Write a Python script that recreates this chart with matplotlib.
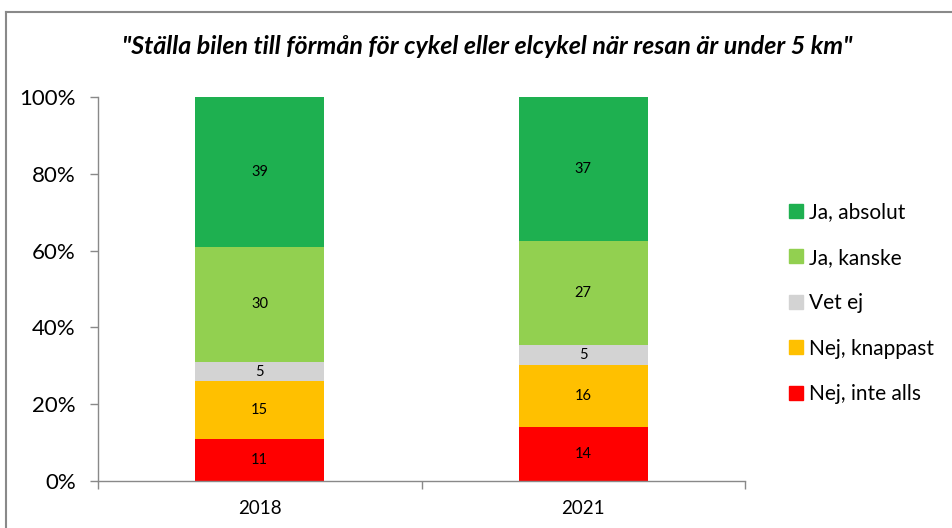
import matplotlib
matplotlib.use("Agg")
import matplotlib.pyplot as plt
from matplotlib.lines import Line2D
from matplotlib.ticker import PercentFormatter
import numpy as np

years = ["2018", "2021"]
categories = ["Nej, inte alls", "Nej, knappast", "Vet ej", "Ja, kanske", "Ja, absolut"]
values = {
    "Nej, inte alls": [11, 14],
    "Nej, knappast": [15, 16],
    "Vet ej": [5, 5],
    "Ja, kanske": [30, 27],
    "Ja, absolut": [39, 37],
}
colors = {
    "Nej, inte alls": "#FF0000",
    "Nej, knappast": "#FFC000",
    "Vet ej": "#D3D3D3",
    "Ja, kanske": "#92D050",
    "Ja, absolut": "#1EB050",
}
title = '"Ställa bilen till förmån för cykel eller elcykel när resan är under 5 km"'

plt.rcParams['font.family'] = ['Lato', 'DejaVu Sans']

W, H = 952, 528
fig = plt.figure(figsize=(W / 100, H / 100), dpi=100)
ax = fig.add_axes([98 / W, 1 - 481 / H, (745 - 98) / W, (481 - 97) / H])

totals = np.sum([values[c] for c in categories], axis=0)
x = np.arange(len(years))
bottom = np.zeros(len(years))
for c in categories:
    v = np.array(values[c], dtype=float)
    frac = v / totals * 100
    ax.bar(x, frac, width=0.4, bottom=bottom, color=colors[c], label=c)
    for xi, b, f, raw in zip(x, bottom, frac, values[c]):
        ax.text(xi, b + f / 2, str(raw), ha="center", va="center", fontsize=10.5, color="black")
    bottom += frac

ax.set_xlim(-0.5, 1.5)
ax.set_ylim(0, 100)
ax.set_yticks(np.arange(0, 101, 20))
ax.yaxis.set_major_formatter(PercentFormatter(decimals=0))
ax.set_xticks(x)
ax.set_xticklabels(years, fontsize=13.5)
ax.set_xticks([-0.5, 0.5, 1.5], minor=True)
ax.tick_params(axis="x", which="major", length=0, pad=14)
ax.tick_params(axis="x", which="minor", length=6, color="#898989", width=1)
ax.tick_params(axis="y", labelsize=16, length=6, color="#898989", width=1, pad=10)
for s in ["top", "right"]:
    ax.spines[s].set_visible(False)
for s in ["left", "bottom"]:
    ax.spines[s].set_color("#898989")
    ax.spines[s].set_linewidth(1)

fig.text(487 / W, 1 - 47 / H, title, ha="center", va="center", fontsize=18,
         fontweight="bold", fontstyle="italic")

order = ["Ja, absolut", "Ja, kanske", "Vet ej", "Nej, knappast", "Nej, inte alls"]
leg_handles = [Line2D([0], [0], marker="s", linestyle="none", markersize=10,
                      markerfacecolor=colors[c], markeredgecolor=colors[c]) for c in order]
fig.legend(leg_handles, order, loc="upper left", bbox_to_anchor=(777 / W, 1 - 194 / H),
           frameon=False, fontsize=15, labelspacing=1.22, handletextpad=0.15,
           handlelength=1.0, borderaxespad=0)

fig.add_artist(Line2D([6 / W, 6 / W], [0, 1 - 12 / H], color="#898989", lw=1.5))
fig.add_artist(Line2D([6 / W, 1], [1 - 12 / H, 1 - 12 / H], color="#898989", lw=1.5))

fig.savefig("out.png", dpi=100)
